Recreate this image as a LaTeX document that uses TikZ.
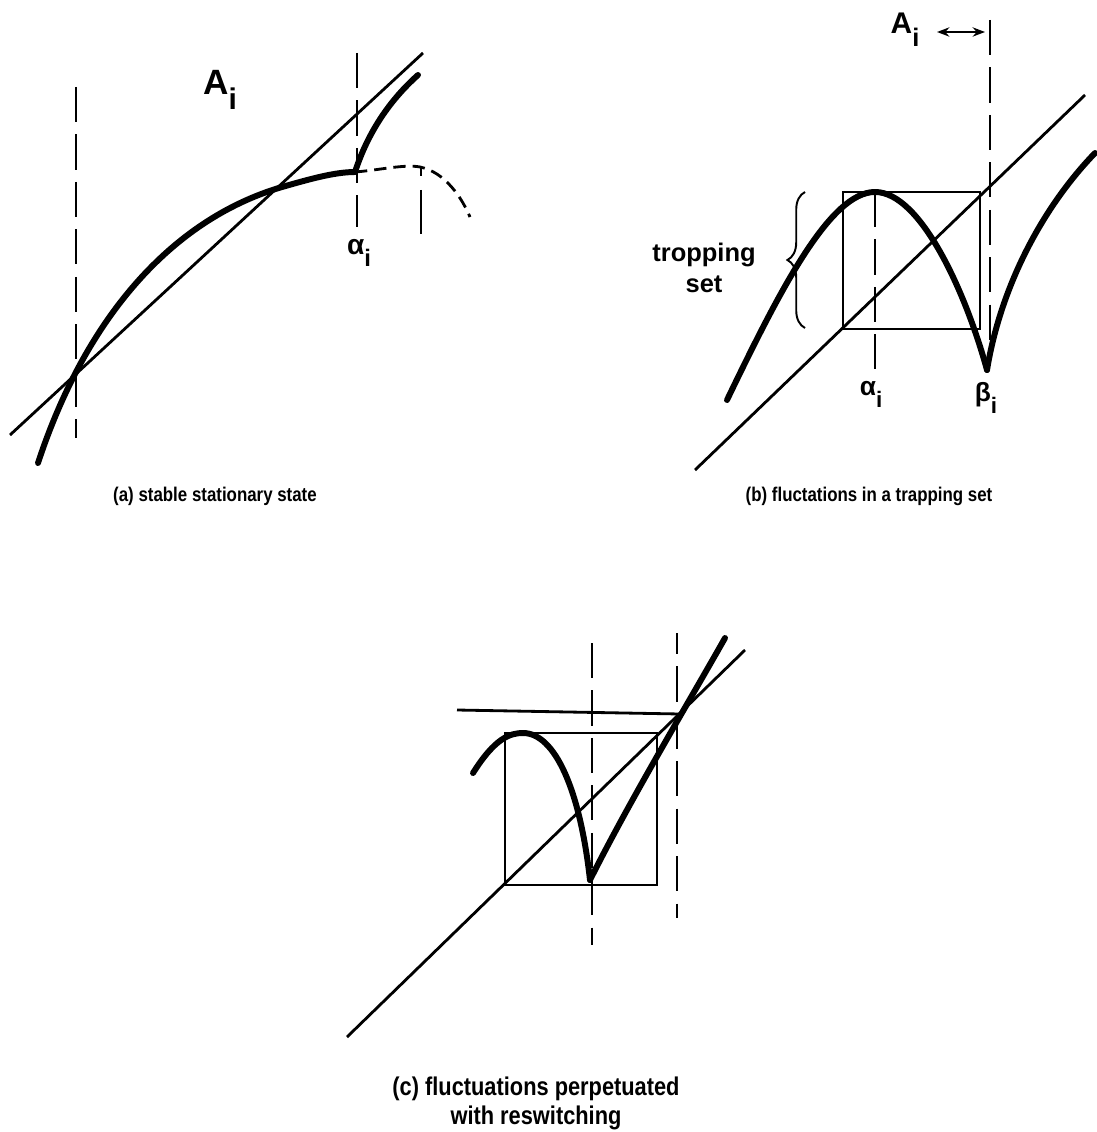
\documentclass[tikz,border=0pt]{standalone}
\usepackage{graphicx}
\usepackage{fontspec}
\setmainfont{Liberation Sans}
\newfontfamily\capfont[FakeStretch=0.85]{Liberation Sans}
\usetikzlibrary{arrows.meta,decorations.pathreplacing}
\newcommand\lowsub[1]{\raisebox{-0.45em}{\scalebox{0.85}{#1}}}
\begin{document}
\begin{tikzpicture}[x=0.02cm, y=-0.02cm,
    fine/.style={line width=1.6pt},
    curve/.style={line width=3.4pt, line cap=round},
    guide/.style={line width=1.5pt, dash pattern=on 20pt off 7pt},
    lab/.style={font=\bfseries\fontsize{15}{18}\selectfont, inner sep=0pt, align=center},
    captext/.style={font=\capfont\bfseries\fontsize{11.3}{18}\selectfont, align=center}]
    \useasboundingbox (0,0) rectangle (1096,1132);
    % (a)
    \coordinate (ka) at (355,172);
    \draw[fine] (10,435) -- (423,53);
    \draw[curve] (38,463) .. controls (85,320) and (170,220) .. (282,187)
        .. controls (310,179) and (335,172) .. (ka);
    \draw[curve] (ka) .. controls (368,132) and (390,100) .. (418,75);
    \draw[fine, dash pattern=on 7pt off 4pt] (ka) .. controls (380,170) and (405,164) .. (420,167)
        .. controls (445,172) and (462,198) .. (470,217);
    \draw[guide] (76,87) -- (76,438);
    \draw[guide] (357,53) -- (357,227);
    \draw[fine, dash pattern=on 4.5pt off 8pt on 25pt] (421,168) -- (421,235);
    \node[lab, font=\bfseries\fontsize{20}{20}\selectfont] (Aa) at (220,90) {A\lowsub{i}};
    \node[lab, font=\bfseries\fontsize{16}{16}\selectfont] (alpha_a) at (359,253) {α\lowsub{i}};
    \node[captext] (cap_a) at (215,496) {(a) stable stationary state};
    % (b)
    \coordinate (b0) at (843,329);
    \coordinate (b1) at (980,192);
    \coordinate (kb) at (987,370);
    \draw[fine] (695,470) -- (1085,95);
    \draw[fine] (b0) rectangle (b1);
    \draw[curve] (727,400) .. controls (780,290) and (830,192) .. (875,192)
        .. controls (920,192) and (965,290) .. (kb);
    \draw[curve] (kb) .. controls (1000,290) and (1040,210) .. (1095,153);
    \draw[guide] (875,192) -- (875,370);
    \draw[guide] (990,20) -- (990,363);
    \draw[fine, {Stealth[length=7pt]}-{Stealth[length=7pt]}] (937,32) -- (985,32);
    \draw[line width=1.1pt, decorate, decoration={brace, amplitude=10pt}] (805,328) -- (805,192);
    \node[lab, font=\bfseries\fontsize{17}{17}\selectfont] (Ab) at (905,30) {A\lowsub{i}};
    \node[lab, font=\bfseries\fontsize{14.5}{18}\selectfont] (trap) at (704,268) {tropping\\set};
    \node[lab] (alpha_b) at (871,394) {α\lowsub{i}};
    \node[lab] (beta_b) at (986,398) {β\lowsub{i}};
    \node[captext] (cap_b) at (869,496) {(b) fluctations in a trapping set};
    % (c)
    \coordinate (c0) at (505,885);
    \coordinate (c1) at (657,733);
    \coordinate (kc) at (590,880);
    \draw[fine] (347,1037) -- (745,650);
    \draw[fine] (457,710) -- (680,714);
    \draw[fine] (c0) rectangle (c1);
    \draw[curve] (473,773) .. controls (495,738) and (510,733) .. (523,733)
        .. controls (555,733) and (580,790) .. (kc);
    \draw[curve] (kc) .. controls (630,800) and (690,700) .. (725,638);
    \draw[guide] (592,643) -- (592,945);
    \draw[guide, dash phase=8pt] (677,633) -- (677,918);
    \node[captext, font=\capfont\bfseries\fontsize{14.6}{16.5}\selectfont] (cap_c) at (536,1103) {(c) fluctuations perpetuated\\with reswitching};
\end{tikzpicture}
\end{document}
